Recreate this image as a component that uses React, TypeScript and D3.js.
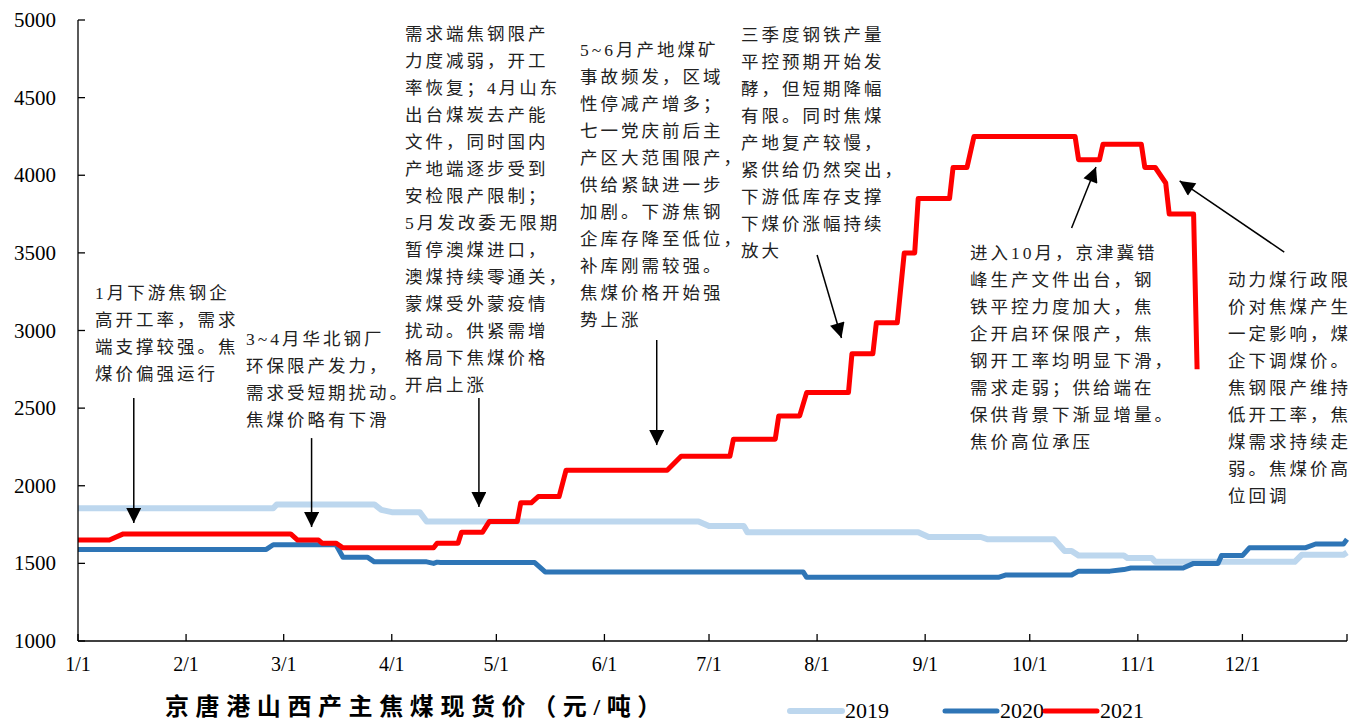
import React from "react";
import * as d3 from "d3";

// ---------- data (month-day, value) ----------
const dates2019 = ["01-01","02-26","02-27","03-27","03-29","04-01","04-09","04-11","06-28","07-01","07-11","07-12","08-30","09-02","09-17","09-19","10-08","10-11","10-13","10-15","10-28","10-29","11-05","11-06","12-16","12-18","12-30","12-31"];
const values2019 = [1855,1855,1880,1880,1845,1830,1830,1770,1770,1740,1740,1700,1700,1670,1670,1655,1655,1580,1580,1550,1550,1535,1535,1510,1510,1555,1555,1570];

const dates2020 = ["01-01","02-24","02-26","03-16","03-18","03-25","03-27","04-11","04-13","04-14","04-15","05-12","05-15","07-28","07-29","09-22","09-24","10-13","10-15","10-24","10-28","10-30","11-14","11-17","11-24","11-25","12-01","12-03","12-19","12-22","12-30","12-31"];
const values2020 = [1590,1590,1620,1620,1540,1540,1510,1510,1500,1508,1505,1505,1445,1445,1410,1410,1425,1425,1450,1450,1460,1470,1470,1500,1500,1550,1550,1600,1600,1625,1625,1655];

const dates2021 = ["01-01","01-10","01-14","03-03","03-05","03-11","03-12","03-16","03-18","04-13","04-14","04-20","04-21","04-27","04-29","05-07","05-08","05-11","05-13","05-19","05-21","06-19","06-23","07-07","07-08","07-20","07-21","07-27","07-29","08-10","08-11","08-17","08-18","08-24","08-26","08-29","08-30","09-08","09-09","09-13","09-15","10-14","10-15","10-21","10-22","11-02","11-03","11-06","11-09","11-10","11-17","11-18"];
const values2021 = [1650,1650,1690,1690,1650,1650,1630,1630,1600,1600,1630,1630,1700,1700,1770,1770,1890,1890,1930,1930,2100,2100,2190,2190,2300,2300,2450,2450,2600,2600,2850,2850,3050,3050,3500,3500,3850,3850,4050,4050,4250,4250,4100,4100,4200,4200,4050,4050,3950,3750,3750,2750];

const seriesNames = ["2019", "2020", "2021"];
const seriesColors = ["#BDD7EE", "#2E75B6", "#FF0000"];
const seriesWidths = [6, 5, 5];
const yTicks = [1000, 1500, 2000, 2500, 3000, 3500, 4000, 4500, 5000];
const title = "京唐港山西产主焦煤现货价（元/吨）";

// annotation texts
const notes = [
  { x: 95, y: 292, lines: ["1月下游焦钢企", "高开工率，需求", "端支撑较强。焦", "煤价偏强运行"] },
  { x: 246, y: 338, lines: ["3~4月华北钢厂", "环保限产发力，", "需求受短期扰动。", "焦煤价略有下滑"] },
  { x: 405, y: 33, lines: ["需求端焦钢限产", "力度减弱，开工", "率恢复；4月山东", "出台煤炭去产能", "文件，同时国内", "产地端逐步受到", "安检限产限制；", "5月发改委无限期", "暂停澳煤进口，", "澳煤持续零通关，", "蒙煤受外蒙疫情", "扰动。供紧需增", "格局下焦煤价格", "开启上涨"] },
  { x: 580, y: 49, lines: ["5~6月产地煤矿", "事故频发，区域", "性停减产增多；", "七一党庆前后主", "产区大范围限产，", "供给紧缺进一步", "加剧。下游焦钢", "企库存降至低位，", "补库刚需较强。", "焦煤价格开始强", "势上涨"] },
  { x: 741, y: 34, lines: ["三季度钢铁产量", "平控预期开始发", "酵，但短期降幅", "有限。同时焦煤", "产地复产较慢，", "紧供给仍然突出，", "下游低库存支撑", "下煤价涨幅持续", "放大"] },
  { x: 970, y: 252, lines: ["进入10月，京津冀错", "峰生产文件出台，钢", "铁平控力度加大，焦", "企开启环保限产，焦", "钢开工率均明显下滑，", "需求走弱；供给端在", "保供背景下渐显增量。", "焦价高位承压"] },
  { x: 1228, y: 279, lines: ["动力煤行政限", "价对焦煤产生", "一定影响，煤", "企下调煤价。", "焦钢限产维持", "低开工率，焦", "煤需求持续走", "弱。焦煤价高", "位回调"] },
];

// arrows in data coordinates: [fromDate, fromValue, toDate, toValue]
const arrowFromDates = ["01-17", "03-09", "04-26", "06-16", "08-01", "10-13", "12-13"];
const arrowFromValues = [2565, 2307, 2565, 2939, 3486, 3660, 3505];
const arrowToDates = ["01-17", "03-09", "04-26", "06-16", "08-08", "10-20", "11-13"];
const arrowToValues = [1760, 1734, 1863, 2262, 2952, 4053, 3963];

const W = 1351;
const H = 722;
const LEFT = 78;
const RIGHT = 1347;
const TOP = 20;
const BOTTOM = 641;

const parse = (md: string) => new Date(2021, +md.slice(0, 2) - 1, +md.slice(3));

const SERIF = "'Liberation Serif', 'Times New Roman', serif";
const CJK = "'Liberation Serif', 'Noto Sans CJK SC', serif";

export default function App() {
  const x = d3.scaleTime().domain([new Date(2021, 0, 1), new Date(2021, 11, 31)]).range([LEFT, RIGHT]);
  const y = d3.scaleLinear().domain([1000, 5000]).range([BOTTOM, TOP]);

  const series = [
    { d: dates2019, v: values2019 },
    { d: dates2020, v: values2020 },
    { d: dates2021, v: values2021 },
  ].map((s) => s.d.map((dd, i) => ({ date: parse(dd), value: s.v[i] })));

  const line = d3
    .line<{ date: Date; value: number }>()
    .x((p) => x(p.date))
    .y((p) => y(p.value));

  const monthTicks = d3.timeMonth.range(new Date(2021, 0, 1), new Date(2021, 11, 31));
  const fmt = d3.timeFormat("%-m/%-d");

  const legendLineX = [790, 945, 1045];

  return (
    <svg width={W} height={H} style={{ position: "absolute", left: 0, top: 0, display: "block", background: "#fff" }}>
      <defs>
        <marker id="ah" viewBox="0 0 10 10" refX="10" refY="5" markerUnits="userSpaceOnUse" markerWidth="16" markerHeight="15" orient="auto">
          <path d="M0,0 L10,5 L0,10 z" fill="#000" />
        </marker>
      </defs>

      {/* series */}
      {series.map((s, i) => (
        <path key={i} d={line(s) || ""} fill="none" stroke={seriesColors[i]} strokeWidth={seriesWidths[i]} strokeLinejoin="round" />
      ))}

      {/* y axis */}
      <line x1={LEFT} x2={LEFT} y1={TOP} y2={BOTTOM} stroke="#000" strokeWidth={1.3} />
      {yTicks.map((t) => (
        <g key={t}>
          <line x1={LEFT} x2={LEFT + 7} y1={y(t)} y2={y(t)} stroke="#000" strokeWidth={1.3} />
          <text x={56} y={y(t) + 7} textAnchor="end" fontFamily={SERIF} fontSize={21} fill="#000">
            {t}
          </text>
        </g>
      ))}

      {/* x axis */}
      <line x1={LEFT} x2={RIGHT} y1={BOTTOM} y2={BOTTOM} stroke="#000" strokeWidth={1.3} />
      {monthTicks.map((t, i) => (
        <g key={i}>
          <line x1={x(t)} x2={x(t)} y1={BOTTOM} y2={BOTTOM - 7} stroke="#000" strokeWidth={1.3} />
          <text x={x(t)} y={671} textAnchor="middle" fontFamily={SERIF} fontSize={20} fill="#000">
            {fmt(t)}
          </text>
        </g>
      ))}
      <line x1={RIGHT} x2={RIGHT} y1={BOTTOM} y2={BOTTOM - 7} stroke="#000" strokeWidth={1.3} />

      {/* annotations */}
      {notes.map((n, i) => (
        <text key={i} fontFamily={CJK} fontSize={17.5} letterSpacing={3} fill="#222">
          {n.lines.map((l, j) => (
            <tspan key={j} x={n.x} y={n.y + 7 + j * 27}>
              {l}
            </tspan>
          ))}
        </text>
      ))}

      {/* arrows */}
      {arrowFromDates.map((fd, i) => (
        <line
          key={i}
          x1={x(parse(fd))}
          y1={y(arrowFromValues[i])}
          x2={x(parse(arrowToDates[i]))}
          y2={y(arrowToValues[i])}
          stroke="#000"
          strokeWidth={1.5}
          markerEnd="url(#ah)"
        />
      ))}

      {/* title */}
      <text x={165} y={715} fontFamily={CJK} fontWeight="bold" fontSize={24} letterSpacing={6.6} fill="#000">
        {title}
      </text>

      {/* legend */}
      {seriesNames.map((nm, i) => (
        <g key={nm}>
          <line x1={legendLineX[i]} x2={legendLineX[i] + 52} y1={711} y2={711} stroke={seriesColors[i]} strokeWidth={seriesWidths[i]} strokeLinecap="round" />
          <text x={legendLineX[i] + 55} y={718} fontFamily={SERIF} fontSize={22} fill="#000">
            {nm}
          </text>
        </g>
      ))}
    </svg>
  );
}
